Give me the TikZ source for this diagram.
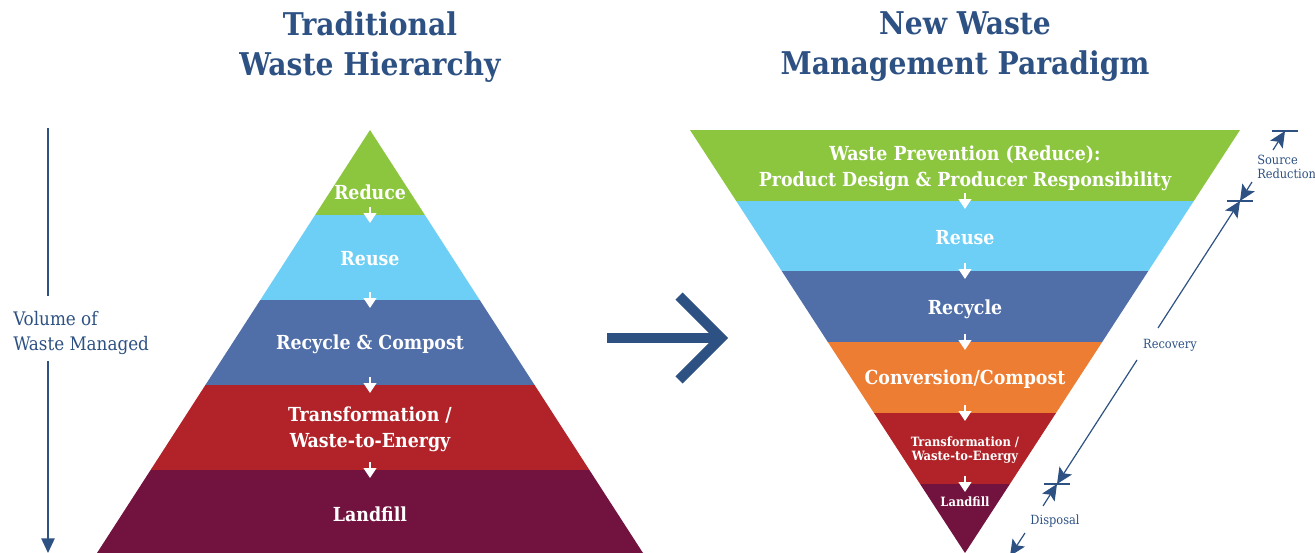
\documentclass[tikz,border=0pt]{standalone}
\usepackage{fontspec}
\setmainfont{DejaVu Serif Condensed}
\usetikzlibrary{arrows.meta,positioning}

\definecolor{wmBlue}{HTML}{2D5183}
\definecolor{wmGreen}{HTML}{8CC63F}
\definecolor{wmSky}{HTML}{6DCFF5}
\definecolor{wmSteel}{HTML}{506FA8}
\definecolor{wmOrange}{HTML}{ED7D32}
\definecolor{wmRed}{HTML}{B12328}
\definecolor{wmPlum}{HTML}{72123E}

\tikzset{
  title/.style={text=wmBlue, font=\bfseries\fontsize{23.5}{30}\selectfont, align=center, inner sep=0.75pt},
  lab/.style={text=white, font=\bfseries\fontsize{14.5}{19.5}\selectfont, align=center, inner sep=0.75pt},
  smalllab/.style={text=white, font=\bfseries\fontsize{9.6}{10.8}\selectfont, align=center, inner sep=0.75pt},
  sidelab/.style={text=wmBlue, font=\fontsize{14}{19}\selectfont, align=left, anchor=west, inner sep=0.75pt},
  dimlab/.style={text=wmBlue, font=\fontsize{9.5}{11}\selectfont, align=left, inner sep=0.75pt},
  flow/.style={white, line width=1.5pt, -{Triangle[width=9.5pt,length=7.5pt]}},
  dim/.style={wmBlue, line width=0.9pt},
  dimarrow/.style={dim, -{Stealth[width=11pt,length=12pt,inset=2.5pt]}},
}

\begin{document}
\begin{tikzpicture}[x=0.75pt,y=0.75pt,yscale=-1,xscale=1]
\useasboundingbox (0,0) rectangle (1315,553);

% Titles
\draw (370,47) node [title] (oldtitle) {Traditional\\Waste Hierarchy};
\draw (965,47) node [title] (newtitle) {New Waste\\Management Paradigm};

%Shape: pyramid layers, top to bottom
\fill [wmGreen] (370,130) -- (424.9,215) -- (315.1,215) -- cycle;
\fill [wmSky] (315.1,215) -- (424.9,215) -- (479.7,300) -- (260.3,300) -- cycle;
\fill [wmSteel] (260.3,300) -- (479.7,300) -- (534.6,385) -- (205.4,385) -- cycle;
\fill [wmRed] (205.4,385) -- (534.6,385) -- (589.4,470) -- (150.6,470) -- cycle;
\fill [wmPlum] (150.6,470) -- (589.4,470) -- (643,553) -- (97,553) -- cycle;

%Shape: funnel layers, top to bottom
\fill [wmGreen] (690,130) -- (1240,130) -- (1193.8,201) -- (736.2,201) -- cycle;
\fill [wmSky] (736.2,201) -- (1193.8,201) -- (1148.3,271) -- (781.7,271) -- cycle;
\fill [wmSteel] (781.7,271) -- (1148.3,271) -- (1102.2,342) -- (827.8,342) -- cycle;
\fill [wmOrange] (827.8,342) -- (1102.2,342) -- (1056,413) -- (874,413) -- cycle;
\fill [wmRed] (874,413) -- (1056,413) -- (1009.9,484) -- (920.1,484) -- cycle;
\fill [wmPlum] (920.1,484) -- (1009.9,484) -- (965,553) -- cycle;

% Text Node
\draw (370,192) node [lab] (reduce) {Reduce};
\draw (370,259) node [lab] (reuse) {Reuse};
\draw (370,344) node [lab] (recycle) {Recycle \& Compost};
\draw (370,429) node [lab] (wte) {Transformation /\\Waste-to-Energy};
\draw (370,514) node [lab] (landfill) {Landfill};

% Text Node
\draw (965,168) node [lab] (prevent) {Waste Prevention (Reduce):\\Product Design \& Producer Responsibility};
\draw (965,238) node [lab] (reuse2) {Reuse};
\draw (965,309) node [lab] (recycle2) {Recycle};
\draw (965,379) node [lab] (convert) {Conversion/Compost};
\draw (965,450) node [smalllab] (wte2) {Transformation /\\Waste-to-Energy};
\draw (965,502) node [smalllab] (landfill2) {Landfill};

% flow between layers
\foreach \y in {215,300,385,470}
  \draw [flow] (370,\y-8) -- (370,\y+8);
\foreach \y in {201,271,342,413,484}
  \draw [flow] (965,\y-8) -- (965,\y+8);

% Volume axis
\draw (12,333) node [sidelab] (volume) {Volume of\\Waste Managed};
\coordinate (axtop) at (48,128);
\coordinate (axbot) at (48,553);
\draw [wmBlue, line width=1.2pt] (axtop) -- (48,296);
\draw [wmBlue, line width=1.2pt, -{Triangle[width=10pt,length=11pt]}] (48,361) -- (axbot);

% Big arrow
\draw [wmBlue, line width=7.6pt] (607,338) -- (720,338);
\draw [wmBlue, line width=7.6pt, line join=miter] (679,296) -- (721,338) -- (679,380);

% Dimension marks beside the funnel
\coordinate (tk1) at (1285,131);
\coordinate (tk2) at (1240,201);
\coordinate (tk3) at (1057,484);
\draw [dim] (1272,131) -- (1298,131);
\draw [dim] (1227,201) -- (1253,201);
\draw [dim] (1044,484) -- (1070,484);

\coordinate (srcA) at (1273,150);
\coordinate (srcB) at (1252,182);
\draw [dimarrow] (srcA) -- (tk1);
\draw [dimarrow] (srcB) -- (tk2);
\draw (1256,167) node [dimlab, anchor=west] (source) {Source\\Reduction};

\coordinate (recA) at (1158,328);
\coordinate (recB) at (1137,360);
\draw [dimarrow] (recA) -- (tk2);
\draw [dimarrow] (recB) -- (tk3);
\draw (1170,345) node [dimlab] (recovery) {Recovery};

\coordinate (dspA) at (1043,506);
\coordinate (dspB) at (1025,533);
\coordinate (dspC) at (1010,556);
\draw [dimarrow] (dspA) -- (tk3);
\draw [dimarrow] (dspB) -- (dspC);
\draw (1055,521) node [dimlab] (disposal) {Disposal};

\end{tikzpicture}
\end{document}
